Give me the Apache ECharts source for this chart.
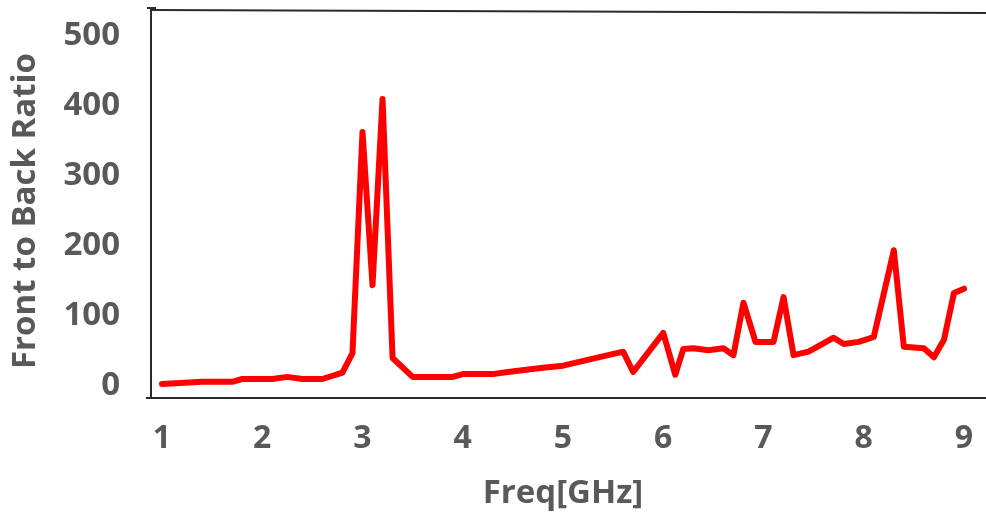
<!DOCTYPE html>
<html>
<head>
<meta charset="utf-8">
<script src="https://cdn.jsdelivr.net/npm/echarts@6/dist/echarts.min.js"></script>
<style>
  html, body { margin: 0; padding: 0; background: #ffffff; }
  #chart { width: 986px; height: 517px; }
</style>
</head>
<body>
<div id="chart"></div>
<script>
// Frequency sweep (GHz) and measured front-to-back ratio
const freqGHz = [1.0, 1.4, 1.7, 1.8, 2.1, 2.25, 2.4, 2.6, 2.8, 2.9, 3.0, 3.1, 3.2, 3.3, 3.5, 3.9, 4.0, 4.3, 4.45, 4.8, 5.0,
  5.6, 5.7, 6.0, 6.12, 6.2, 6.3, 6.45, 6.6, 6.7, 6.8, 6.92, 7.1, 7.2, 7.3, 7.45, 7.7, 7.8, 7.95, 8.1, 8.3, 8.4, 8.6, 8.7, 8.8, 8.9, 9.0];
const fbRatio = [3, 6, 6, 10, 10, 13, 10, 10, 19, 47, 363, 144, 410, 40, 13, 13, 17, 17, 20, 26, 29,
  49, 20, 76, 16, 53, 54, 51, 54, 44, 119, 63, 63, 127, 44, 49, 69, 60, 63, 70, 194, 56, 54, 41, 66, 133, 139];
const xTicks = [1, 2, 3, 4, 5, 6, 7, 8, 9];
const yTicks = [0, 100, 200, 300, 400, 500];

const xAxisTitle = 'Freq[GHz]';
const yAxisTitle = 'Front to Back Ratio';

const textColor = '#595959';
const frameColor = '#2b2b2b';

const chart = echarts.init(document.getElementById('chart'), null, { renderer: 'canvas' });

const points = freqGHz.map((f, i) => [f, fbRatio[i]]);

chart.setOption({
  animation: false,
  backgroundColor: '#ffffff',
  grid: { left: 162, right: 22, top: 36, bottom: 131, containLabel: false },
  xAxis: {
    type: 'value',
    min: xTicks[0],
    max: xTicks[xTicks.length - 1],
    interval: 1,
    axisLine: { show: false },
    axisTick: { show: false },
    splitLine: { show: false },
    axisLabel: {
      margin: 37,
      color: textColor,
      fontFamily: 'Open Sans',
      fontWeight: 'bold',
      fontSize: 32
    },
    name: xAxisTitle,
    nameLocation: 'middle',
    nameGap: 91,
    nameTextStyle: {
      color: textColor,
      fontFamily: 'Open Sans',
      fontWeight: 'bold',
      fontSize: 33
    }
  },
  yAxis: {
    type: 'value',
    min: yTicks[0],
    max: yTicks[yTicks.length - 1],
    interval: 100,
    axisLabel: {
      margin: 42,
      color: textColor,
      fontFamily: 'Open Sans',
      fontWeight: 'bold',
      fontSize: 33
    },
    axisLine: { show: false },
    axisTick: { show: false },
    splitLine: { show: false },
    name: yAxisTitle,
    nameLocation: 'middle',
    nameGap: 120,
    nameRotate: 90,
    nameTextStyle: {
      color: textColor,
      fontFamily: 'Open Sans',
      fontWeight: 'bold',
      fontSize: 33
    }
  },
  series: [{
    type: 'line',
    data: points,
    showSymbol: false,
    lineStyle: { color: '#ff0000', width: 6, join: 'round', cap: 'round' },
    z: 3
  }],
  // plot frame: left, top and bottom rules
  graphic: [
    { type: 'line', shape: { x1: 151, y1: 8, x2: 151, y2: 398 }, style: { stroke: frameColor, lineWidth: 2 }, silent: true },
    { type: 'line', shape: { x1: 147, y1: 8, x2: 156, y2: 8 }, style: { stroke: frameColor, lineWidth: 2 }, silent: true },
    { type: 'line', shape: { x1: 151, y1: 10, x2: 986, y2: 13 }, style: { stroke: frameColor, lineWidth: 2 }, silent: true },
    { type: 'line', shape: { x1: 146, y1: 398, x2: 986, y2: 398 }, style: { stroke: frameColor, lineWidth: 2 }, silent: true }
  ]
});
</script>
</body>
</html>
